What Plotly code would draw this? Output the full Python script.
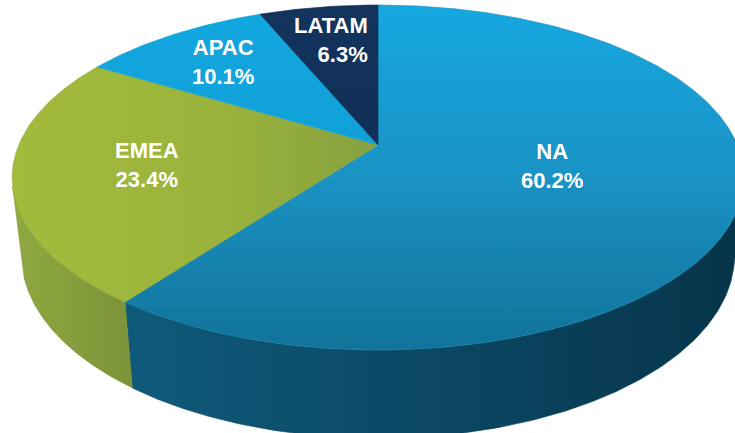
import numpy as np
import plotly.graph_objects as go

# ---- data ----
regions = ["NA", "EMEA", "APAC", "LATAM"]
shares = [60.2, 23.4, 10.1, 6.3]

# ---- styling ----
top_fill = [
    dict(type="vertical", colorscale=[[0, "#117399"], [0.5, "#1A92C4"], [1, "#16A8E0"]]),
    dict(type="horizontal", colorscale=[[0, "#A3BB3B"], [0.6, "#99B23C"], [1, "#86A03F"]]),
    dict(type="vertical", colorscale=[[0, "#10A0D8"], [1, "#13A7DF"]]),
    dict(type="vertical", colorscale=[[0, "#102F57"], [1, "#13345D"]]),
]
wall_fill = [
    dict(type="horizontal", colorscale=[[0, "#0F5A7A"], [0.5, "#0B4863"], [1, "#063449"]]),
    dict(type="horizontal", colorscale=[[0, "#8FA93F"], [1, "#7C9239"]]),
    dict(type="horizontal", colorscale=[[0, "#0E86B4"], [1, "#0B739B"]]),
    dict(type="horizontal", colorscale=[[0, "#0E2A4E"], [1, "#0C2444"]]),
]
line_col = ["#1688B8", "#94AD3D", "#12A4DC", "#12325B"]
wall_line = ["#0A4560", "#849B3C", "#0E80AD", "#0D284A"]
label_radius = [0.49, 0.64, 0.73, 0.73]
label_shift = [np.radians(-3.8), np.radians(0.7), 0.0, np.radians(-0.5)]
label_align = ["center", "center", "center", "right"]

W, H = 735, 433
CX, CY = 378.0, 145.0
F = 1665.0
XSCALE = 1.012
DIST = 4.69
PHI = np.radians(27.95)
THICK = 0.252


def project(theta, r=1.0, h=0.0):
    theta = np.asarray(theta, dtype=float)
    X = r * np.sin(theta)
    Z = r * np.cos(theta)
    Y = h
    up = Y * np.cos(PHI) + Z * np.sin(PHI)
    depth = DIST + Z * np.cos(PHI) - Y * np.sin(PHI)
    return CX + XSCALE * F * X / depth, CY - F * up / depth


def wall_visible(theta):
    h = -THICK / 2
    P = np.array([np.sin(theta), h, np.cos(theta)])
    n = np.array([np.sin(theta), 0.0, np.cos(theta)])
    C = np.array([0.0, DIST * np.sin(PHI), -DIST * np.cos(PHI)])
    return float(np.dot(n, C - P)) > 0


# visible wall range
samp = np.radians(np.arange(0, 360, 0.05))
vis = np.array([wall_visible(t) for t in samp])
vis_lo = samp[vis].min()
vis_hi = samp[vis].max()

total = sum(shares)
bounds = np.concatenate([[0.0], np.cumsum(shares) / total * 2 * np.pi])

fig = go.Figure()

# walls first
for i in range(len(regions)):
    a, b = max(bounds[i], vis_lo), min(bounds[i + 1], vis_hi)
    if b <= a:
        continue
    th = np.linspace(a, b, 200)
    xt, yt = project(th, 1.0, 0.0)
    xb, yb = project(th[::-1], 1.0, -THICK)
    xs = np.concatenate([xt, xb, xt[:1]])
    ys = np.concatenate([yt, yb, yt[:1]])
    fig.add_trace(go.Scatter(
        x=xs, y=ys, mode="lines", fill="toself",
        line=dict(width=0.6, color=wall_line[i]),
        fillgradient=wall_fill[i], hoverinfo="skip", showlegend=False))

# top faces
for i in range(len(regions)):
    a, b = bounds[i], bounds[i + 1]
    th = np.linspace(a, b, max(20, int((b - a) / (2 * np.pi) * 720)))
    xa, ya = project(th, 1.0, 0.0)
    x0, y0 = project(0.0, 0.0, 0.0)
    xs = np.concatenate([[x0], xa, [x0]])
    ys = np.concatenate([[y0], ya, [y0]])
    fig.add_trace(go.Scatter(
        x=xs, y=ys, mode="lines", fill="toself",
        line=dict(width=0.6, color=line_col[i]),
        fillgradient=top_fill[i], hoverinfo="skip", showlegend=False))

# labels
for i, (name, s) in enumerate(zip(regions, shares)):
    mid = (bounds[i] + bounds[i + 1]) / 2 + label_shift[i]
    lx, ly = project(mid, label_radius[i], 0.0)
    fig.add_annotation(
        x=float(lx), y=float(ly), xref="x", yref="y",
        text=f"{name}<br>{s:.1f}%", showarrow=False, align=label_align[i],
        xanchor="center", yanchor="middle",
        font=dict(family="Liberation Sans, Arial, sans-serif", size=22, color="white", weight=700))

fig.update_layout(
    width=W, height=H, margin=dict(l=0, r=0, t=0, b=0),
    paper_bgcolor="white", plot_bgcolor="white",
    xaxis=dict(range=[0, W], visible=False, fixedrange=True),
    yaxis=dict(range=[H, 0], visible=False, fixedrange=True),
    showlegend=False,
)
fig.write_html(
    "out.html",
    config={"displayModeBar": False},
    post_script="document.body.style.margin='0';document.body.style.overflow='hidden';",
)
